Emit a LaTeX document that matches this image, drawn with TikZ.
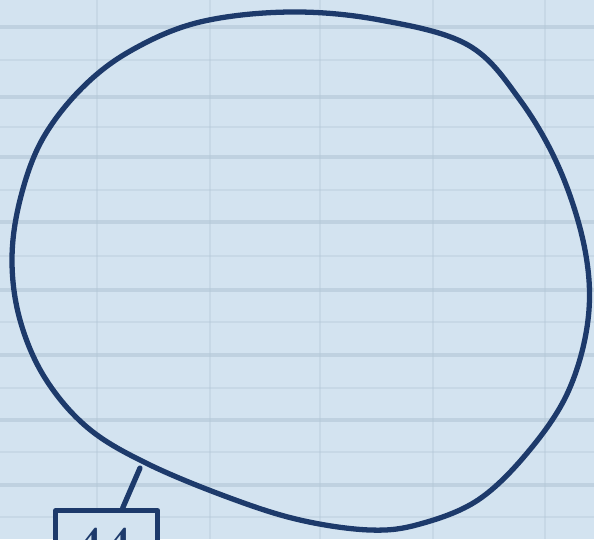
\documentclass[tikz,border=0pt]{standalone}
\usetikzlibrary{calc}
\definecolor{paper}{HTML}{D3E3F0}
\definecolor{gridc}{HTML}{B2C6D6}
\definecolor{ink}{HTML}{1D3A6B}
\tikzset{
  inkline/.style={draw=ink, line width=1.5pt, line cap=round, line join=round},
  gridline/.style={draw=gridc, line width=0.9pt, opacity=0.6},
  minorgrid/.style={draw=gridc, line width=0.5pt, opacity=0.35},
  labelbox/.style={inkline, fill=paper, minimum width=1.02cm, minimum height=0.6cm, inner sep=0pt, anchor=north west},
}
\begin{document}
\begin{tikzpicture}[x=0.01cm, y=-0.01cm]
\useasboundingbox (0,0) rectangle (594,539);
\clip (0,0) rectangle (594,539);
\fill[paper] (0,0) rectangle (594,539);
% grid paper
\foreach \yy in {27,97,157,222,290,355,420,485} {
  \draw[gridline] (0,\yy) -- (594,\yy);
}
\foreach \yy in {60,127,190,256,322,388,452,517} {
  \draw[minorgrid] (0,\yy) -- (594,\yy);
}
\foreach \xx in {97,210,320,433,545} {
  \draw[minorgrid] (\xx,0) -- (\xx,539);
}
% hand-drawn circle
\draw[inkline] plot[smooth cycle, tension=0.6] coordinates {
  (290,12) (380,20) (468,45) (520,100) (560,170) (585,250) (588,320)
  (568,392) (528,452) (478,500) (420,524) (370,530) (300,520) (230,498)
  (148,464) (88,428) (45,378) (20,320) (12,260) (20,200) (42,140)
  (82,88) (132,50) (200,22)
};
\coordinate (tap) at (140,468);
% label box
\node[labelbox] (lbl) at (53,508) {};
\node[text=ink, font=\bfseries\Large, anchor=north] (lbltxt) at (104,516) {44};
\draw[inkline] (tap) -- ([xshift=0.16cm]lbl.north);
\end{tikzpicture}
\end{document}
